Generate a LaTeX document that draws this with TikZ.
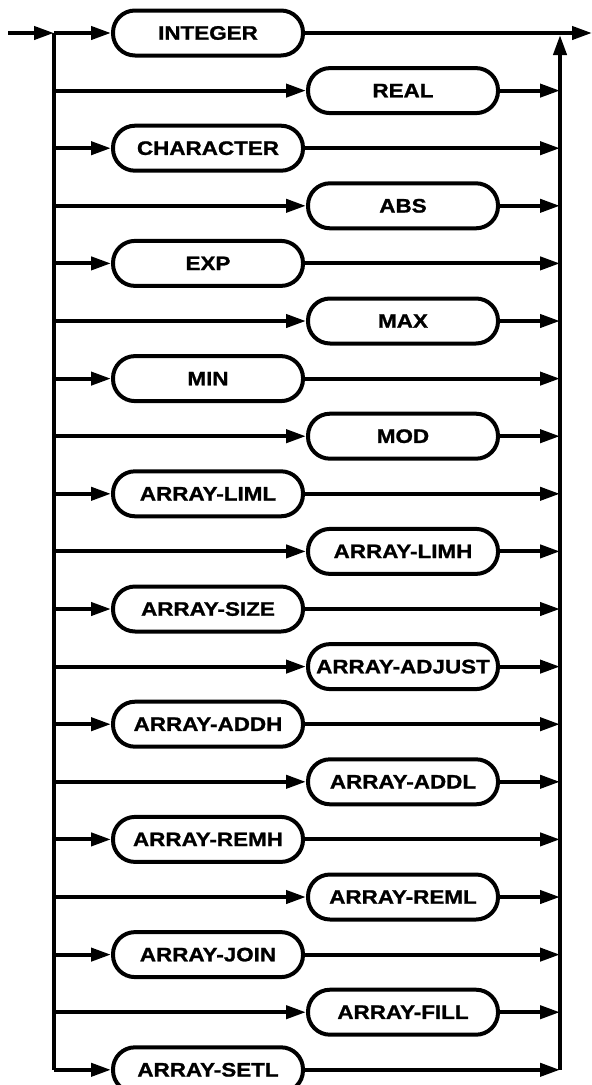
\documentclass[tikz,border=0pt]{standalone}
\usepackage{fontspec}
\newfontfamily\kwfont{Liberation Sans}[FakeStretch=1.15,FakeBold=1.2]
\usetikzlibrary{arrows.meta}
\tikzset{
  kw/.style={draw,line width=4pt,rounded corners=22pt,minimum width=190pt,minimum height=45pt,inner sep=1pt,font=\kwfont\bfseries\fontsize{19.5}{19.5}\selectfont},
  rail/.style={line width=4pt},
  tip/.style={-{Triangle[length=20pt,width=13pt]}}
}
\def\lx{208}
\def\rx{403}

\begin{document}
\begin{tikzpicture}[x=1pt,y=-1pt]
\useasboundingbox (0,0) rectangle (592,1085);
\coordinate (in) at (8,33);
\coordinate (out) at (592,33);
\foreach \name/\xx [count=\i from 0] in {INTEGER/\lx,REAL/\rx,CHARACTER/\lx,ABS/\rx,EXP/\lx,MAX/\rx,MIN/\lx,MOD/\rx,ARRAY-LIML/\lx,ARRAY-LIMH/\rx,ARRAY-SIZE/\lx,ARRAY-ADJUST/\rx,ARRAY-ADDH/\lx,ARRAY-ADDL/\rx,ARRAY-REMH/\lx,ARRAY-REML/\rx,ARRAY-JOIN/\lx,ARRAY-FILL/\rx,ARRAY-SETL/\lx}
{\pgfmathsetmacro{\yy}{33+57.6*\i}
\coordinate (L\i) at (54,\yy);
\coordinate (R\i) at (560,\yy);
\node[kw] (k\i) at (\xx,\yy) {\name};
\draw[rail,tip] (L\i) -- (k\i.west);
\ifnum\i>0 \draw[rail,tip] (k\i.east) -- (R\i);\fi
}
\draw[rail,tip] (in) -- (L0);
\draw[rail] (L0) -- (L18);
\draw[rail,tip] (k0.east) -- (out);
\draw[rail,tip,shorten >=2pt] (R18) -- (R0);
\end{tikzpicture}
\end{document}
